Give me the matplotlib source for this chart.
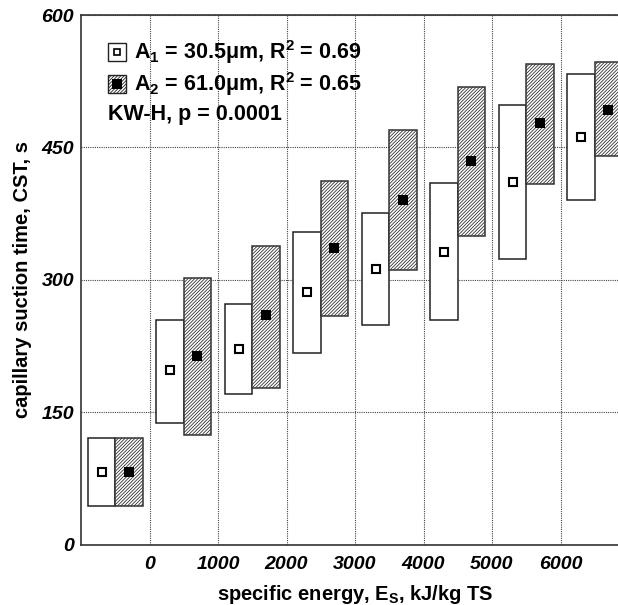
import numpy as np
import matplotlib
matplotlib.use('agg')
import matplotlib.pyplot as plt
from matplotlib.patches import Rectangle

plt.rcParams['font.family'] = ['Liberation Sans', 'DejaVu Sans']
plt.rcParams['mathtext.fontset'] = 'custom'
plt.rcParams['mathtext.rm'] = 'Liberation Sans:bold'
plt.rcParams['mathtext.it'] = 'Liberation Sans:bold'
plt.rcParams['mathtext.default'] = 'rm'
plt.rcParams['hatch.linewidth'] = 0.6

# group positions on the energy axis (first group = untreated)
centers = np.array([-500, 500, 1500, 2500, 3500, 4500, 5500, 6500])

# A1 = 30.5 um (open boxes): min, max, median
a1_low = np.array([44, 138, 171, 217, 249, 255, 324, 391])
a1_high = np.array([121, 255, 273, 354, 376, 410, 498, 533])
a1_med = np.array([83, 198, 222, 286, 313, 332, 411, 462])

# A2 = 61.0 um (hatched boxes): min, max, median
a2_low = np.array([44, 125, 178, 259, 311, 350, 409, 440])
a2_high = np.array([121, 302, 339, 412, 470, 519, 545, 547])
a2_med = np.array([83, 214, 260, 336, 391, 435, 478, 493])

xticks = [0, 1000, 2000, 3000, 4000, 5000, 6000]
yticks = [0, 150, 300, 450, 600]

fig = plt.figure(figsize=(6.18, 6.05), dpi=100)
ax = fig.add_axes([0.1311, 0.0992, 0.8867, 0.876])

w = 400
ax.bar(centers - w / 2, a1_high - a1_low, bottom=a1_low, width=w,
       facecolor='white', edgecolor='#222222', linewidth=1.1, zorder=3)
ax.bar(centers + w / 2, a2_high - a2_low, bottom=a2_low, width=w,
       facecolor='white', edgecolor='#333333', linewidth=1.1, hatch='//////////', zorder=3)
ax.plot(centers - w / 2, a1_med, 's', ms=6, mfc='white', mec='black', mew=1.5, zorder=4)
ax.plot(centers + w / 2, a2_med, 's', ms=7.2, mfc='black', mec='black', mew=0, zorder=4)

ax.set_xlim(-1000, 7000)
ax.set_ylim(0, 600)
ax.set_xticks(xticks)
ax.set_yticks(yticks)
ax.set_xticklabels([str(t) for t in xticks], fontsize=14, fontweight='bold', style='italic')
ax.set_yticklabels([str(t) for t in yticks], fontsize=14, fontweight='bold', style='italic')
ax.tick_params(axis='x', length=0, pad=8)
ax.tick_params(axis='y', length=0, pad=5)
ax.grid(True, color='#444444', linestyle=(0, (1, 1)), linewidth=0.8, zorder=0)
ax.set_axisbelow(True)
for s in ax.spines.values():
    s.set_color('#333333')
    s.set_linewidth(1.2)

ax.set_xlabel(r'specific energy, E$_S$, kJ/kg TS', fontsize=14.5, fontweight='bold', labelpad=7)
ax.set_ylabel('capillary suction time, CST, s', fontsize=14.5, fontweight='bold', labelpad=7)

# legend drawn by hand
def swatch(y0, hatched):
    r = Rectangle((0.0493, y0), 0.0328, 0.034, transform=ax.transAxes,
                  facecolor='white', edgecolor='#222222', linewidth=1.0,
                  hatch='//////////' if hatched else None, zorder=5)
    ax.add_patch(r)
    if hatched:
        ax.plot([0.0657], [y0 + 0.017], 's', ms=7, mfc='black', mew=0,
                transform=ax.transAxes, zorder=6)
    else:
        ax.plot([0.0657], [y0 + 0.017], 's', ms=5, mfc='white', mec='black', mew=1.2,
                transform=ax.transAxes, zorder=6)

swatch(0.914, False)
swatch(0.852, True)
ax.text(0.097, 0.931, r'A$_1$ = 30.5μm, R$^2$ = 0.69', transform=ax.transAxes,
        fontsize=15.5, fontweight='bold', va='center', zorder=6)
ax.text(0.097, 0.869, r'A$_2$ = 61.0μm, R$^2$ = 0.65', transform=ax.transAxes,
        fontsize=15.5, fontweight='bold', va='center', zorder=6)
ax.text(0.0493, 0.813, 'KW-H, p = 0.0001', transform=ax.transAxes,
        fontsize=15.5, fontweight='bold', va='center', zorder=6)

fig.savefig('out.png', dpi=100)
